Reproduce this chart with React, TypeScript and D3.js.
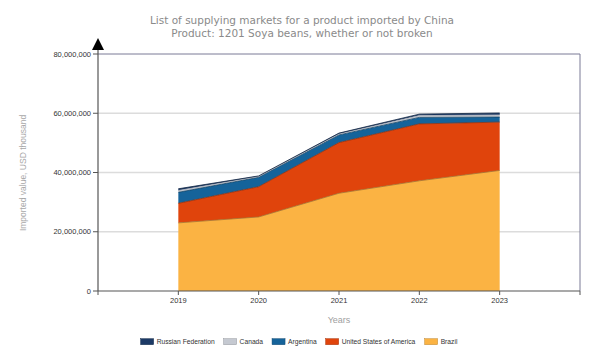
import React from "react";
import * as d3 from "d3";

const years = [2019, 2020, 2021, 2022, 2023];
const seriesNames = ["Brazil", "United States of America", "Argentina", "Canada", "Russian Federation"];
const brazil = [23000000, 25000000, 33000000, 37200000, 40700000];
const usa = [6600000, 10200000, 17100000, 19200000, 16300000];
const argentina = [3700000, 3200000, 2600000, 2200000, 1700000];
const canada = [600000, 250000, 300000, 600000, 700000];
const russia = [600000, 200000, 300000, 500000, 700000];
const colors = ["#fbb343", "#e0440c", "#15639a", "#c5c9d1", "#1c3a66"];
const yTicks = [0, 20000000, 40000000, 60000000, 80000000];
const legendOrder = ["Russian Federation", "Canada", "Argentina", "United States of America", "Brazil"];

const W = 602, H = 361;
const left = 98, right = 580, top = 54, bottom = 291;

export default function App() {
  const values = [brazil, usa, argentina, canada, russia];
  const rows = years.map((y, i) => {
    const r: any = { year: y };
    seriesNames.forEach((n, k) => (r[n] = values[k][i]));
    return r;
  });
  const stacked = d3.stack().keys(seriesNames)(rows);
  const x = d3.scaleLinear().domain([2018, 2024]).range([left, right]);
  const y = d3.scaleLinear().domain([0, 80000000]).range([bottom, top]);
  const area = d3.area<any>().x((d) => x(d.data.year)).y0((d) => y(d[0])).y1((d) => y(d[1]));
  const line = d3.line<any>().x((d) => x(d.data.year)).y((d) => y(d[1]));
  const fmt = d3.format(",");
  const xTickVals = d3.range(2018, 2025);

  // legend layout
  const legendFont = "6.7px 'Liberation Sans', Arial, sans-serif";
  const ctx = document.createElement("canvas").getContext("2d")!;
  ctx.font = legendFont;
  const tw = (s: string) => ctx.measureText(s).width;
  const sw = 13, gap = 3, itemGap = 9;
  const widths = legendOrder.map((n) => sw + gap + tw(n));
  const total = d3.sum(widths) + itemGap * (legendOrder.length - 1);
  let lx = 299 - total / 2;
  const legendItems = legendOrder.map((n, i) => {
    const item = { n, x: lx, c: colors[seriesNames.indexOf(n)] };
    lx += widths[i] + itemGap;
    return item;
  });

  return (
    <svg width={W} height={H} style={{ position: "absolute", left: 0, top: 0, background: "#fff" }}>
      <g fontFamily="'DejaVu Sans', Verdana, sans-serif" fontSize="10.5" fill="#8a8a8a" textAnchor="middle">
        <text x={302} y={24}>List of supplying markets for a product imported by China</text>
        <text x={302} y={37}>Product: 1201 Soya beans, whether or not broken</text>
      </g>
      {yTicks.slice(1, 4).map((t) => (
        <line key={t} x1={left} x2={right} y1={y(t)} y2={y(t)} stroke="#dcdcdc" strokeWidth={1.5} />
      ))}
      <line x1={left} x2={right} y1={y(80000000)} y2={y(80000000)} stroke="#7a7a96" strokeWidth={1} />
      <line x1={right} x2={right} y1={top} y2={bottom} stroke="#7a7a96" strokeWidth={1} />
      {stacked.map((s, i) => (
        <path key={s.key} d={area(s as any)!} fill={colors[i]} />
      ))}
      {stacked.map((s, i) => (
        <path key={"l" + s.key} d={line(s as any)!} fill="none" stroke={d3.color(colors[i])!.darker(i === 3 ? 0.3 : 1.2).toString()} strokeWidth={0.8} />
      ))}
      <line x1={left} x2={left} y1={48} y2={bottom} stroke="#555" strokeWidth={1.2} />
      <path d={`M${left},38 L${left + 6},50 L${left - 6},50 Z`} fill="#000" />
      <line x1={left} x2={right} y1={bottom} y2={bottom} stroke="#555" strokeWidth={1.2} />
      <g fontFamily="'Liberation Sans', Arial, sans-serif" fontSize="7.5" fill="#333">
        {yTicks.map((t) => (
          <g key={t}>
            <line x1={left - 5} x2={left} y1={y(t)} y2={y(t)} stroke="#555" />
            <text x={left - 7} y={y(t) + 2.7} textAnchor="end">{fmt(t)}</text>
          </g>
        ))}
        {xTickVals.map((t) => (
          <g key={t}>
            <line x1={x(t)} x2={x(t)} y1={bottom} y2={bottom + 4} stroke="#555" />
            {years.includes(t) && (
              <text x={x(t)} y={bottom + 12} textAnchor="middle">{t}</text>
            )}
          </g>
        ))}
      </g>
      <text x={339} y={323} textAnchor="middle" fontFamily="'Liberation Sans', Arial, sans-serif" fontSize="9" fill="#a0a0a0">Years</text>
      <text transform={`translate(26,173) rotate(-90)`} textAnchor="middle" fontFamily="'Liberation Sans', Arial, sans-serif" fontSize="8.5" fill="#a8a8a8">Imported value, USD thousand</text>
      <g fontFamily="'Liberation Sans', Arial, sans-serif" fontSize="6.7" fill="#333">
        {legendItems.map((it) => (
          <g key={it.n}>
            <rect x={it.x} y={338.7} width={sw} height={6} fill={it.c} stroke={d3.color(it.c)!.darker(0.8).toString()} strokeWidth={0.5} />
            <text x={it.x + sw + gap} y={344.2}>{it.n}</text>
          </g>
        ))}
      </g>
    </svg>
  );
}
